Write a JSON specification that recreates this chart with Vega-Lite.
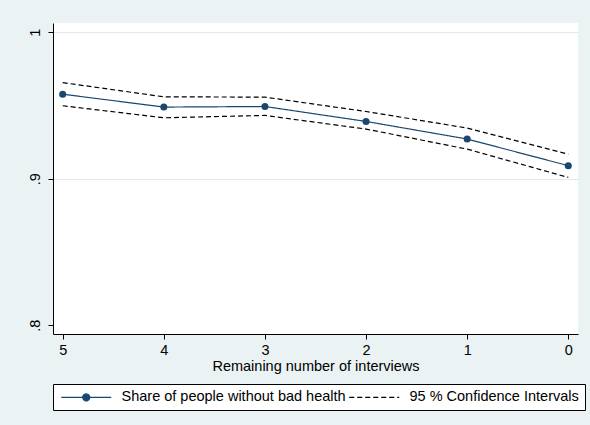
{
  "$schema": "https://vega.github.io/schema/vega-lite/v6.json",
  "width": 525,
  "height": 311,
  "autosize": "none",
  "padding": {"left": 53, "top": 23, "right": 12, "bottom": 91},
  "background": "#EAF2F3",
  "config": {
    "font": "Liberation Sans",
    "view": {"fill": "white", "stroke": null},
    "axis": {"labelFont": "Liberation Sans", "titleFont": "Liberation Sans", "labelColor": "black", "titleColor": "black", "domainColor": "black", "tickColor": "black"}
  },
  "data": {
    "values": [
      {"x": 5, "y": 0.9577, "series": "Share of people without bad health", "line": "est"},
      {"x": 4, "y": 0.9489, "series": "Share of people without bad health", "line": "est"},
      {"x": 3, "y": 0.9493, "series": "Share of people without bad health", "line": "est"},
      {"x": 2, "y": 0.9391, "series": "Share of people without bad health", "line": "est"},
      {"x": 1, "y": 0.9271, "series": "Share of people without bad health", "line": "est"},
      {"x": 0, "y": 0.9089, "series": "Share of people without bad health", "line": "est"},
      {"x": 5, "y": 0.9656, "series": "95 % Confidence Intervals", "line": "upper"},
      {"x": 4, "y": 0.9559, "series": "95 % Confidence Intervals", "line": "upper"},
      {"x": 3, "y": 0.9557, "series": "95 % Confidence Intervals", "line": "upper"},
      {"x": 2, "y": 0.9459, "series": "95 % Confidence Intervals", "line": "upper"},
      {"x": 1, "y": 0.9346, "series": "95 % Confidence Intervals", "line": "upper"},
      {"x": 0, "y": 0.9168, "series": "95 % Confidence Intervals", "line": "upper"},
      {"x": 5, "y": 0.9498, "series": "95 % Confidence Intervals", "line": "lower"},
      {"x": 4, "y": 0.9416, "series": "95 % Confidence Intervals", "line": "lower"},
      {"x": 3, "y": 0.9432, "series": "95 % Confidence Intervals", "line": "lower"},
      {"x": 2, "y": 0.9339, "series": "95 % Confidence Intervals", "line": "lower"},
      {"x": 1, "y": 0.9202, "series": "95 % Confidence Intervals", "line": "lower"},
      {"x": 0, "y": 0.9009, "series": "95 % Confidence Intervals", "line": "lower"}
    ]
  },
  "encoding": {
    "x": {
      "field": "x", "type": "quantitative",
      "scale": {"domain": [5.096, -0.096], "nice": false, "zero": false},
      "axis": {"values": [5, 4, 3, 2, 1, 0], "title": "Remaining number of interviews", "grid": false, "tickSize": 5, "labelFontSize": 14.5, "labelPadding": 4, "titleFontSize": 14.5, "titleFontWeight": "normal", "titlePadding": 3, "labelFlush": false}
    },
    "y": {
      "field": "y", "type": "quantitative",
      "scale": {"domain": [0.794, 1.0063], "nice": false, "zero": false},
      "axis": {"values": [0.8, 0.9, 1], "title": null, "labelExpr": "datum.value > 0.95 ? '1' : (datum.value < 0.85 ? '.8' : '.9')", "labelAngle": 270, "labelAlign": "center", "labelBaseline": "bottom", "labelPadding": 6, "labelFontSize": 14.5, "tickSize": 5, "grid": true, "gridColor": {"condition": {"test": "datum.value < 0.85", "value": "transparent"}, "value": "#E1EBEE"}, "gridWidth": 1.2, "labelFlush": false}
    }
  },
  "layer": [
    {
      "mark": {"type": "line", "strokeWidth": 1.2},
      "encoding": {
        "detail": {"field": "line"},
        "color": {
          "field": "series", "type": "nominal",
          "scale": {"domain": ["Share of people without bad health", "95 % Confidence Intervals"], "range": ["#1a476f", "black"]},
          "legend": {
            "title": null,
            "orient": "bottom",
            "direction": "horizontal",
            "offset": 11,
            "strokeColor": "black",
            "fillColor": "white",
            "padding": 6,
            "columnPadding": 0,
            "labelFontSize": 14.5,
            "labelColor": "black",
            "labelFont": "Liberation Sans",
            "labelOffset": 48,
            "labelLimit": 400,
            "symbolSize": 100,
            "symbolOffset": 0,
            "symbolStrokeWidth": 1.2,
            "symbolType": "M-1,0H9",
            "encode": {
              "symbols": {
                "update": {
                  "shape": {"signal": "datum.value === 'Share of people without bad health' ? 'M-1,0H9M4.7,0A0.7,0.7,0,1,1,3.3,0A0.7,0.7,0,1,1,4.7,0Z' : 'M-1,0H9'"},
                  "fill": {"signal": "datum.value === 'Share of people without bad health' ? '#1a476f' : 'transparent'"},
                  "fillOpacity": {"value": 1}
                }
              }
            }
          }
        },
        "strokeDash": {
          "field": "series", "type": "nominal",
          "scale": {"domain": ["Share of people without bad health", "95 % Confidence Intervals"], "range": [[1, 0], [5, 3]]},
          "legend": null
        }
      }
    },
    {
      "transform": [{"filter": "datum.line === 'est'"}],
      "mark": {"type": "point", "filled": true, "size": 50, "opacity": 1, "color": "#1a476f"}
    }
  ]
}
